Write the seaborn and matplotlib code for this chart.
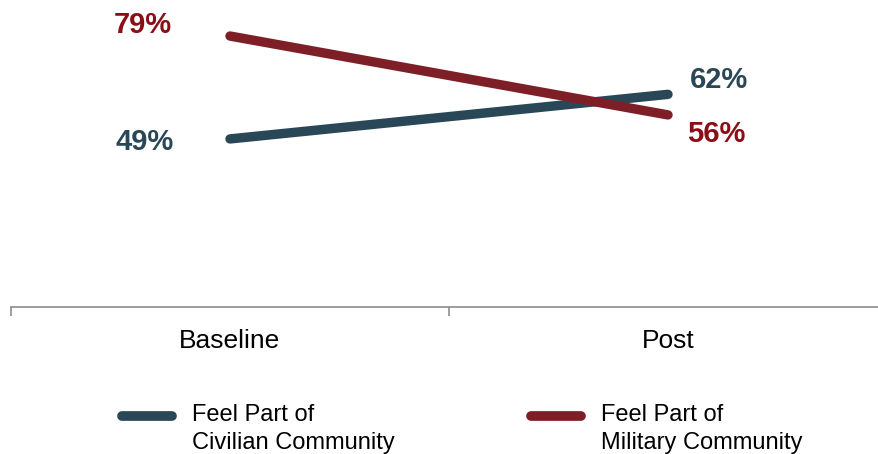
import matplotlib
matplotlib.use("Agg")
import matplotlib.pyplot as plt
import seaborn as sns
import pandas as pd

periods = ["Baseline", "Post"]
series_names = ["Feel Part of\nCivilian Community", "Feel Part of\nMilitary Community"]
civilian = [49, 62]
military = [79, 56]

line_colors = ["#2A4758", "#7E1F27"]
label_colors = ["#2A4758", "#8B0D15"]

df = pd.DataFrame({
    "period": periods * 2,
    "value": civilian + military,
    "series": [series_names[0]] * 2 + [series_names[1]] * 2,
})

sns.set_theme(style="white")
plt.rcParams["font.family"] = ["Liberation Sans", "DejaVu Sans"]

fig = plt.figure(figsize=(8.79, 4.54), dpi=100)
W, H = 879, 454
ax = fig.add_axes([11 / W, (H - 307) / H, 876 / W, 307 / H])

sns.lineplot(data=df, x="period", y="value", hue="series", palette=line_colors,
             linewidth=6.8, sort=False, ax=ax, legend=True)
for ln in ax.get_lines():
    ln.set_solid_capstyle("round")

ax.set_xlim(-0.5, 1.5)
ax.set_ylim(0, 307 / 3.43)
ax.set_xlabel("")
ax.set_ylabel("")
ax.set_yticks([])
for s in ["top", "left", "right"]:
    ax.spines[s].set_visible(False)
ax.spines["bottom"].set_color("#8C8C8C")
ax.spines["bottom"].set_linewidth(1.2)

ax.set_xticks([0, 1])
ax.set_xticklabels(periods, fontsize=19, color="black")
ax.tick_params(axis="x", which="major", length=0, pad=16)
ax.set_xticks([-0.5, 0.5, 1.5], minor=True)
ax.tick_params(axis="x", which="minor", length=6.5, width=1.2, color="#8C8C8C",
               direction="out", bottom=True)

# value labels beside each end point (offsets in points)
offsets = {
    (0, 0): (-61.5, -2), (0, 1): (36.5, 10),
    (1, 0): (-63, 8), (1, 1): (35, -14),
}
for si, vals in enumerate([civilian, military]):
    for pi, v in enumerate(vals):
        ax.annotate(f"{v}%", xy=(pi, v), xytext=offsets[(si, pi)],
                    textcoords="offset points", ha="center", va="center",
                    fontsize=21, fontweight="bold", color=label_colors[si])

handles, labels = ax.get_legend_handles_labels()
ax.legend_.remove()
leg = fig.legend(handles, labels, loc="upper left",
                 bbox_to_anchor=(122 / W, 1 - 404 / H), ncol=2, frameon=False,
                 fontsize=17, handlelength=2.12, handletextpad=0.85,
                 columnspacing=5.76, borderpad=0, borderaxespad=0,
                 labelcolor="black")
for t in leg.get_texts():
    t.set_linespacing(1.33)
# keep each legend line level with the first row of its label
for h in leg.legend_handles:
    h.set_linewidth(7)
    h.set_solid_capstyle("round")
    y = h.get_ydata()
    h.set_ydata([v + 9.5 for v in y])

fig.savefig("out.png", dpi=100)
